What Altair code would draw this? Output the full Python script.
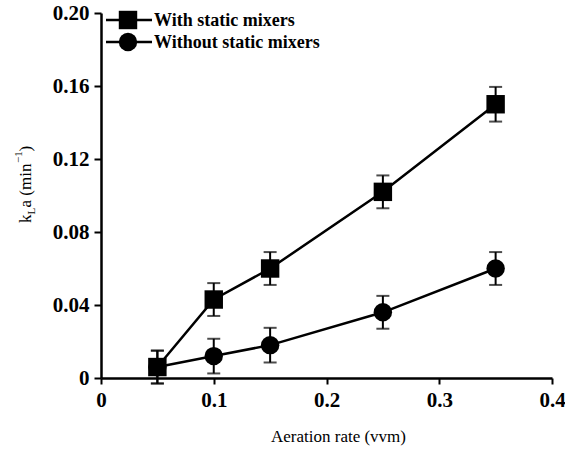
import altair as alt
import pandas as pd

# ---- data ----
aeration = [0.05, 0.10, 0.15, 0.25, 0.35]
with_mixers = [0.006, 0.043, 0.060, 0.102, 0.150]
with_err = [0.009, 0.009, 0.009, 0.009, 0.0095]
without_mixers = [0.006, 0.012, 0.018, 0.036, 0.060]
without_err = [0.009, 0.0095, 0.0095, 0.009, 0.009]
series_names = ["With static mixers", "Without static mixers"]
series_shapes = ["square", "circle"]
x_ticks = [0, 0.1, 0.2, 0.3, 0.4]
y_ticks = [0, 0.04, 0.08, 0.12, 0.16, 0.20]
x_title = "Aeration rate (vvm)"

FONT = "'Liberation Serif', 'DejaVu Serif', serif"
W, H = 451, 365
PAD = {"left": 101, "top": 13, "right": 13, "bottom": 72}


def frame(vals, errs, name):
    return pd.DataFrame({
        "x": aeration,
        "y": vals,
        "lo": [v - e for v, e in zip(vals, errs)],
        "hi": [v + e for v, e in zip(vals, errs)],
        "series": name,
    })


xscale = alt.Scale(domain=[0, 0.4], nice=False, zero=False)
yscale = alt.Scale(domain=[0, 0.2], nice=False)

xaxis = alt.Axis(
    values=x_ticks, title=x_title, grid=False,
    labelExpr="datum.value == 0 ? '0' : format(datum.value, '.1f')",
    labelFont=FONT, labelFontSize=21, labelFontWeight="bold", labelColor="black",
    labelPadding=5, labelFlush=False, labelOverlap=False, labelBound=False,
    titleFont=FONT, titleFontSize=17, titleFontWeight="normal", titleColor="black",
    titlePadding=18, titleX=237,
    domainColor="black", domainWidth=2.5, tickColor="black", tickWidth=2, tickSize=6,
)
yaxis = alt.Axis(
    values=y_ticks, title=None, grid=False,
    labelExpr="datum.value == 0 ? '0' : format(datum.value, '.2f')",
    labelFont=FONT, labelFontSize=21, labelFontWeight="bold", labelColor="black",
    labelPadding=5, labelFlush=False, labelOverlap=False, labelBound=False,
    domainColor="black", domainWidth=2.5, tickColor="black", tickWidth=2, tickSize=7,
)


def X(field="x"):
    return alt.X(f"{field}:Q", scale=xscale, axis=xaxis)


def Y(field):
    return alt.Y(f"{field}:Q", scale=yscale, axis=yaxis)


def series_layers(df, shape):
    base = alt.Chart(df)
    line = base.mark_line(color="black", strokeWidth=2.5).encode(x=X(), y=Y("y"))
    bar = base.mark_rule(color="black", strokeWidth=2).encode(x=X(), y=Y("lo"), y2="hi:Q")
    cap_lo = base.mark_tick(color="black", orient="horizontal", size=13, thickness=2).encode(x=X(), y=Y("lo"))
    cap_hi = base.mark_tick(color="black", orient="horizontal", size=13, thickness=2).encode(x=X(), y=Y("hi"))
    pts = base.mark_point(filled=True, shape=shape, size=340, color="black", opacity=1).encode(x=X(), y=Y("y"))
    return [line, bar, cap_lo, cap_hi, pts]


df_with = frame(with_mixers, with_err, series_names[0])
df_without = frame(without_mixers, without_err, series_names[1])

layers = series_layers(df_without, series_shapes[1]) + series_layers(df_with, series_shapes[0])

# ---- legend (inside plot, top-left) ----
for i, (name, shape) in enumerate(zip(series_names, series_shapes)):
    ly = 7 + 22 * i
    ldf = pd.DataFrame({"label": [name]})
    lb = alt.Chart(ldf)
    layers.append(lb.mark_rule(color="black", strokeWidth=2.5).encode(
        x=alt.value(5), x2=alt.value(51), y=alt.value(ly)))
    layers.append(lb.mark_point(filled=True, shape=shape, size=340, color="black", opacity=1).encode(
        x=alt.value(27), y=alt.value(ly)))
    layers.append(lb.mark_text(font=FONT, fontSize=18, fontWeight="bold", color="black",
                               align="left", baseline="middle").encode(
        x=alt.value(53), y=alt.value(ly + 1), text="label:N"))

# ---- y-axis title: k_L a (min^-1), built from rotated pieces ----
ytitle_parts = [
    # text, font size, baseline x (rel), start y (rel)
    ("k", 17, -70, 210),
    ("L", 11, -66, 201.5),
    ("a (min", 17, -70, 194.5),
    ("\u22121", 11, -79, 150),
    (")", 17, -70, 138.5),
]
for txt, fs, bx, sy in ytitle_parts:
    tdf = pd.DataFrame({"t": [txt]})
    layers.append(alt.Chart(tdf).mark_text(font=FONT, fontSize=fs, color="black", angle=270,
                                           align="left", baseline="alphabetic").encode(
        x=alt.value(bx), y=alt.value(sy), text="t:N"))

chart = alt.layer(*layers).properties(
    width=W, height=H,
    autosize=alt.AutoSizeParams(type="none"),
    padding=PAD,
    background="white",
).configure_view(stroke=None)

chart.save("out.html", embed_options={"renderer": "svg", "actions": False})
